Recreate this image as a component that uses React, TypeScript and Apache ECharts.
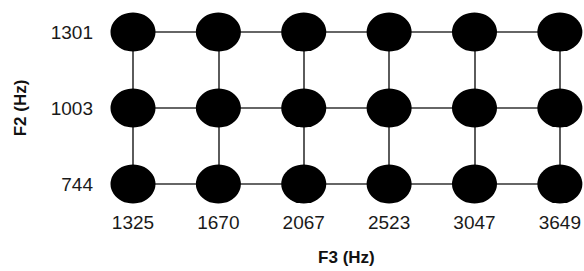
import React, { useEffect, useRef } from "react";
import * as echarts from "echarts";

const f3Categories = ["1325", "1670", "2067", "2523", "3047", "3649"];
const f2Categories = ["744", "1003", "1301"];
const xAxisName = "F3 (Hz)";
const yAxisName = "F2 (Hz)";

export default function App() {
  const ref = useRef<HTMLDivElement>(null);
  useEffect(() => {
    if (!ref.current) return;
    const chart = echarts.init(ref.current, null, { renderer: "svg" });
    const points: [string, string][] = [];
    f2Categories.forEach((y) => f3Categories.forEach((x) => points.push([x, y])));
    const labelStyle = {
      color: "#1a1a1a",
      fontFamily: "Liberation Sans, Arial, sans-serif",
      fontSize: 19,
    };
    const nameStyle = {
      color: "#111",
      fontFamily: "Liberation Sans, Arial, sans-serif",
      fontSize: 17,
      fontWeight: "bold" as const,
    };
    chart.setOption({
      animation: false,
      backgroundColor: "#fff",
      grid: { left: 133, right: 22, top: 32, bottom: 85, containLabel: false },
      xAxis: {
        type: "category",
        data: f3Categories,
        boundaryGap: false,
        axisLine: { show: false },
        axisTick: { show: false },
        axisLabel: { ...labelStyle, margin: 29 },
        splitLine: { show: true, lineStyle: { color: "#333", width: 1.6 } },
        name: xAxisName,
        nameLocation: "middle",
        nameGap: 65,
        nameTextStyle: nameStyle,
      },
      yAxis: {
        type: "category",
        data: f2Categories,
        boundaryGap: false,
        axisLine: { show: false },
        axisTick: { show: false },
        axisLabel: { ...labelStyle, margin: 40 },
        splitLine: { show: true, lineStyle: { color: "#333", width: 1.6 } },
        name: yAxisName,
        nameLocation: "middle",
        nameGap: 104,
        nameRotate: 90,
        nameTextStyle: { ...nameStyle, padding: [0, 0, 0, 0] },
      },
      series: [
        {
          type: "scatter",
          data: points,
          symbol: "circle",
          symbolSize: [45, 39],
          itemStyle: { color: "#000", opacity: 1 },
          clip: false,
          z: 5,
        },
      ],
    });
    return () => chart.dispose();
  }, []);
  return (
    <div
      ref={ref}
      style={{ position: "fixed", left: 0, top: 0, width: 584, height: 271 }}
    />
  );
}
